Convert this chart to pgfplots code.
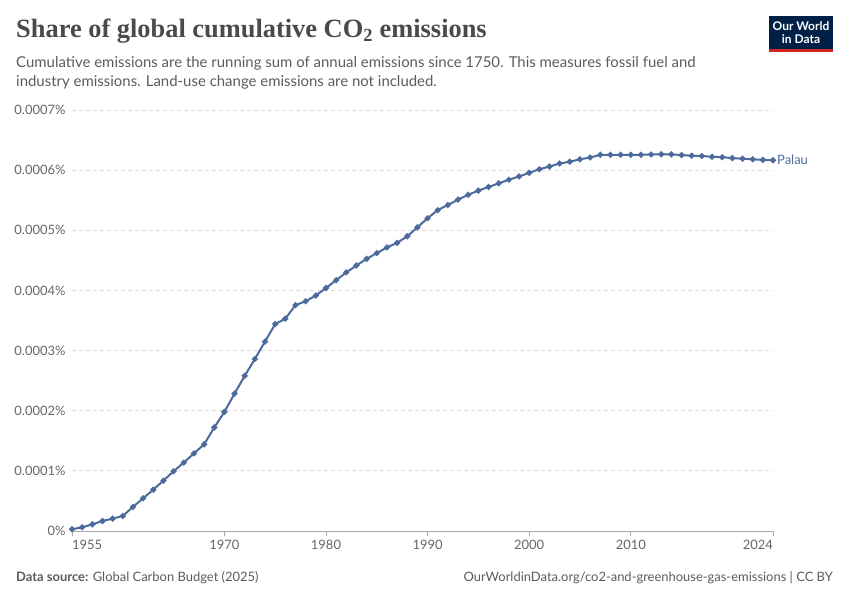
\documentclass[border=0pt]{standalone}
\usepackage{fontspec}
\setmainfont{Lato}
\newfontfamily\titlefont{Liberation Serif}
\usepackage{pgfplots}
\pgfplotsset{compat=1.18}
\definecolor{owidblue}{HTML}{4C6A9C}
\definecolor{txtgrey}{HTML}{5B5B5B}
\definecolor{tickgrey}{HTML}{666666}
\definecolor{titlegrey}{HTML}{4A4A4A}
\definecolor{navy}{HTML}{002147}
\definecolor{owidred}{HTML}{CE261E}
\definecolor{gridgrey}{HTML}{DDDDDD}
\definecolor{axisgrey}{HTML}{AAAAAA}
\begin{document}
\begin{tikzpicture}[x=1bp,y=1bp]
\useasboundingbox (0,0) rectangle (850,600);
% title
\node[anchor=base west, inner sep=0, text=titlegrey] at (16,562) {\titlefont\bfseries\fontsize{26.5}{30}\selectfont Share of global cumulative CO\textsubscript{2} emissions};
\node[anchor=base west, inner sep=0, text=txtgrey] at (16,532) {\fontsize{15}{18}\selectfont Cumulative emissions are the running sum of annual emissions since 1750. This measures fossil fuel and};
\node[anchor=base west, inner sep=0, text=txtgrey] at (16,513) {\fontsize{15}{18}\selectfont industry emissions. Land-use change emissions are not included.};
% logo
\fill[navy] (769,548) rectangle (833,584);
\fill[owidred] (769,548) rectangle (833,551);
\node[text=white, inner sep=0, anchor=base] at (801,569) {\bfseries\fontsize{12}{12}\selectfont Our World};
\node[text=white, inner sep=0, anchor=base] at (801,556) {\bfseries\fontsize{12}{12}\selectfont in Data};
% footer
\node[anchor=base west, inner sep=0, text=txtgrey] at (16,18) {\fontsize{13}{15}\selectfont\textbf{Data source:} Global Carbon Budget (2025)};
\node[anchor=base east, inner sep=0, text=txtgrey] at (833,18) {\fontsize{13}{15}\selectfont OurWorldinData.org/co2-and-greenhouse-gas-emissions | CC BY};
\begin{axis}[
  at={(72bp,69bp)}, anchor=south west, scale only axis,
  width=701bp, height=421bp,
  xmin=1955, xmax=2024, ymin=0, ymax=7,
  axis x line*=bottom, axis y line*=left,
  y axis line style={draw=none},
  x axis line style={draw=axisgrey, line width=0.8bp},
  ytick={0,1,2,3,4,5,6,7},
  yticklabels={0\%,0.0001\%,0.0002\%,0.0003\%,0.0004\%,0.0005\%,0.0006\%,0.0007\%},
  ytick style={draw=none},
  xtick={1955,1970,1980,1990,2000,2010,2024},
  xticklabels={,1970,1980,1990,2000,2010,},
  xtick style={draw=axisgrey, line width=0.8bp},
  tick align=outside,
  major tick length=5bp,
  ymajorgrids,
  grid style={draw=gridgrey, dash pattern=on 4bp off 3bp, line width=0.8bp},
  tick label style={text=tickgrey, font=\fontsize{13}{13}\selectfont},
  yticklabel style={xshift=2bp},
  xticklabel style={yshift=-1bp},
  clip=false,
]
\addplot[color=owidblue, line width=2bp, mark=*, mark size=1.9bp, mark options={fill=owidblue, draw=none}] coordinates {
(1955,0.028) (1956,0.062) (1957,0.11) (1958,0.166) (1959,0.205)
(1960,0.25) (1961,0.40) (1962,0.544) (1963,0.687) (1964,0.837)
(1965,0.993) (1966,1.137) (1967,1.29) (1968,1.44) (1969,1.72)
(1970,1.98) (1971,2.285) (1972,2.58) (1973,2.86) (1974,3.15)
(1975,3.44) (1976,3.53) (1977,3.755) (1978,3.82) (1979,3.915)
(1980,4.04) (1981,4.17) (1982,4.30) (1983,4.415) (1984,4.525)
(1985,4.62) (1986,4.715) (1987,4.79) (1988,4.90) (1989,5.05)
(1990,5.20) (1991,5.335) (1992,5.42) (1993,5.51) (1994,5.59)
(1995,5.66) (1996,5.72) (1997,5.78) (1998,5.84) (1999,5.895)
(2000,5.955) (2001,6.015) (2002,6.06) (2003,6.11) (2004,6.14)
(2005,6.18) (2006,6.21) (2007,6.255) (2008,6.255) (2009,6.255)
(2010,6.255) (2011,6.255) (2012,6.26) (2013,6.265) (2014,6.262)
(2015,6.25) (2016,6.24) (2017,6.235) (2018,6.222) (2019,6.215)
(2020,6.20) (2021,6.19) (2022,6.18) (2023,6.17) (2024,6.165)
};
\node[anchor=west, inner sep=0, text=owidblue, font=\fontsize{13}{13}\selectfont] at (axis cs:2024,6.165) [xshift=4bp] {Palau};
\node[anchor=north west, inner sep=0, text=tickgrey, font=\fontsize{13}{13}\selectfont] at (axis cs:1955,0) [yshift=-9bp] {1955};
\node[anchor=north east, inner sep=0, text=tickgrey, font=\fontsize{13}{13}\selectfont] at (axis cs:2024,0) [yshift=-9bp] {2024};
\end{axis}
\end{tikzpicture}
\end{document}
